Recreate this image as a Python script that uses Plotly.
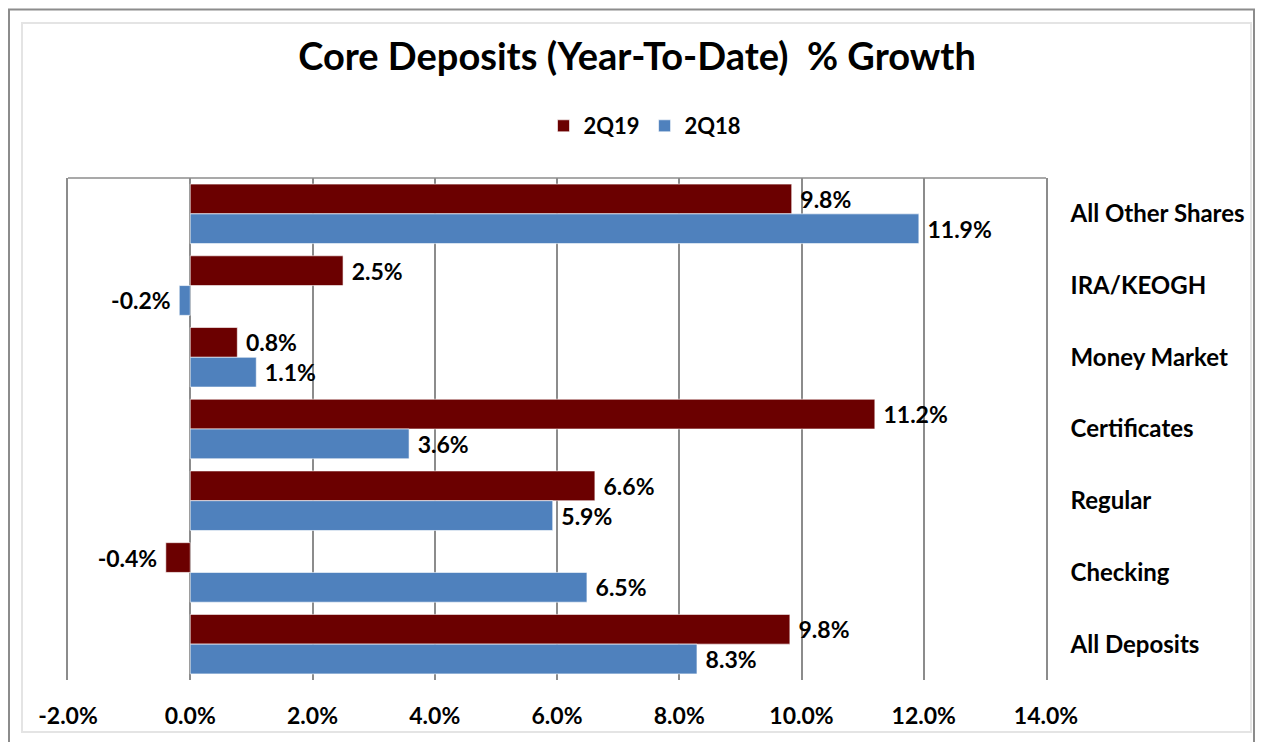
import plotly.graph_objects as go

# data
categories = ["All Other Shares", "IRA/KEOGH", "Money Market", "Certificates",
              "Regular", "Checking", "All Deposits"]
growth_2q19 = [9.84, 2.50, 0.77, 11.20, 6.62, -0.40, 9.81]
growth_2q18 = [11.92, -0.18, 1.08, 3.58, 5.93, 6.49, 8.29]
x_ticks = [-2, 0, 2, 4, 6, 8, 10, 12, 14]
x_ticktext = [f"{v:.1f}%" for v in x_ticks]

FONT = "Lato"
RED = "#6B0000"
BLUE = "#4F81BD"
GRID = "#8C8C8C"

# page has an 8px body margin; work in page pixels
OFF = 8
PAGE_W, PAGE_H = 1265, 742
W, H = PAGE_W - OFF, PAGE_H - OFF
L, R, T, B = 68, 1046, 178, 680   # plot area on page


def px_x(p):
    return (p - L) / (R - L)


def px_y(p):
    return (B - p) / (B - T)


fig = go.Figure()
for name, vals, color in [("2Q19", growth_2q19, RED), ("2Q18", growth_2q18, BLUE)]:
    fig.add_trace(go.Bar(
        y=categories, x=vals, name=name, orientation="h",
        marker=dict(color=color, line=dict(color="rgba(255,255,255,0.6)", width=1)),
        texttemplate=" %{x:.1f}% ", textposition="outside", constraintext="none",
        textfont=dict(family=FONT, size=23, color="black", weight="bold"),
        cliponaxis=False,
    ))

cat_range = [len(categories) - 0.5, -0.5]

fig.update_layout(
    width=W, height=H,
    barmode="group", bargap=0.17, bargroupgap=0,
    plot_bgcolor="white", paper_bgcolor="white",
    margin=dict(l=L - OFF, r=PAGE_W - R, t=T - OFF, b=PAGE_H - B, autoexpand=False),
    title=dict(text="<b>Core Deposits (Year-To-Date)  % Growth</b>",
               font=dict(family=FONT, size=38, color="black"),
               x=(637 - OFF) / W, xanchor="center", y=1 - (57 - OFF) / H, yanchor="middle",
               xref="container", yref="container"),
    legend=dict(orientation="h", x=px_x(645), xanchor="center",
                y=px_y(126), yanchor="middle",
                font=dict(family=FONT, size=22, color="black", weight="bold"),
                traceorder="normal"),
    xaxis=dict(range=[-2, 14], tickvals=x_ticks, ticktext=x_ticktext,
               showgrid=True, gridcolor=GRID, gridwidth=1.5,
               zeroline=False, showline=False, ticks="", automargin=False,
               tickangle=0, ticklabelstandoff=20,
               tickfont=dict(family=FONT, size=23, color="black", weight="bold")),
    yaxis=dict(type="category", categoryarray=categories, range=cat_range,
               side="right", showgrid=False, zeroline=False,
               showline=True, mirror=True, linecolor=GRID, linewidth=1.5, ticks="",
               ticklabelstandoff=18, automargin=False,
               tickfont=dict(family=FONT, size=24, color="black", weight="bold")),
    yaxis2=dict(type="category", categoryarray=categories, range=cat_range,
                overlaying="y", anchor="free", position=px_x(190.25), side="left",
                showticklabels=False, showgrid=False, zeroline=False, automargin=False,
                showline=True, linecolor=GRID, linewidth=1.5,
                ticks="outside", tickson="boundaries", ticklen=6, tickcolor=GRID,
                tickwidth=1.5),
    shapes=[
        # top border of plot area
        dict(type="line", xref="paper", yref="paper", x0=0, x1=1, y0=1, y1=1,
             line=dict(color=GRID, width=1.5)),
        # outer frame
        dict(type="rect", xref="paper", yref="paper", x0=px_x(9), x1=px_x(1254),
             y0=px_y(760), y1=px_y(9.5), line=dict(color=GRID, width=2), layer="below"),
        # inner frame
        dict(type="rect", xref="paper", yref="paper", x0=px_x(22), x1=px_x(1251),
             y0=px_y(732), y1=px_y(23), line=dict(color="#E4E4E4", width=2), layer="below"),
    ],
)

fig.write_html("out.html")
